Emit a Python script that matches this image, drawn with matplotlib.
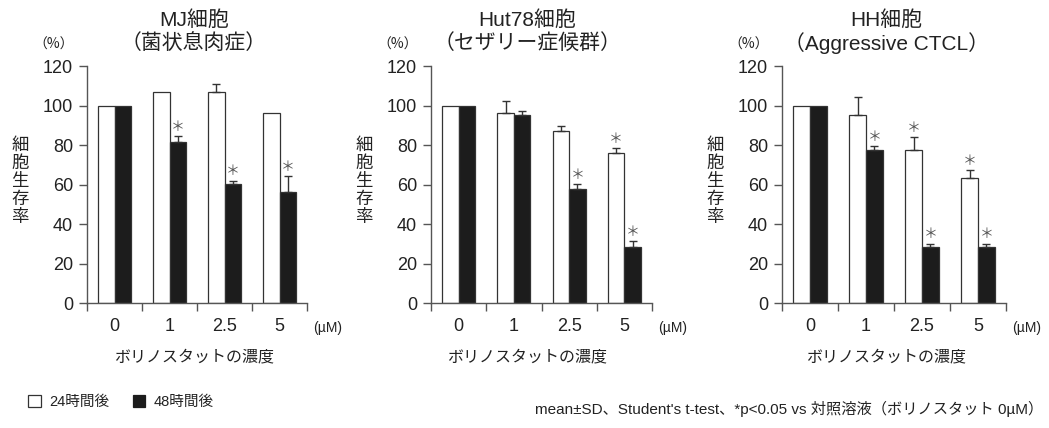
"""
Cell viability of CTCL cell lines after vorinostat treatment.

Three panels (MJ, Hut78, HH), paired bars for 24 h and 48 h,
upper SD whiskers and significance stars.
"""

import matplotlib
matplotlib.use("Agg")
import matplotlib.pyplot as plt
from matplotlib.patches import Patch

plt.rcParams["font.family"] = ["Liberation Sans", "Noto Sans CJK JP", "DejaVu Sans"]

# ------------------------------------------------------------------ #
#  Data
# ------------------------------------------------------------------ #

doses = ["0", "1", "2.5", "5"]

titles = [
    ("MJ細胞", "（菌状息肉症）"),
    ("Hut78細胞", "（セザリー症候群）"),
    ("HH細胞", "（Aggressive CTCL）"),
]

mj_24h = [100, 107, 107, 96.3]
mj_24h_sd = [0, 0, 3.8, 0]
mj_48h = [100, 81.5, 60.3, 56.4]
mj_48h_sd = [0, 3.0, 1.7, 8.0]
mj_24h_sig = [False, False, False, False]
mj_48h_sig = [False, True, True, True]

hut_24h = [100, 96.3, 87.2, 75.9]
hut_24h_sd = [0, 6.1, 2.5, 2.5]
hut_48h = [100, 95.0, 57.8, 28.2]
hut_48h_sd = [0, 2.0, 2.5, 3.4]
hut_24h_sig = [False, False, False, True]
hut_48h_sig = [False, False, True, True]

hh_24h = [100, 95.0, 77.4, 63.4]
hh_24h_sd = [0, 9.4, 6.6, 3.7]
hh_48h = [100, 77.4, 28.4, 28.4]
hh_48h_sd = [0, 2.2, 1.7, 1.7]
hh_24h_sig = [False, False, True, True]
hh_48h_sig = [False, True, True, True]

panels = [
    (mj_24h, mj_24h_sd, mj_24h_sig, mj_48h, mj_48h_sd, mj_48h_sig),
    (hut_24h, hut_24h_sd, hut_24h_sig, hut_48h, hut_48h_sd, hut_48h_sig),
    (hh_24h, hh_24h_sd, hh_24h_sig, hh_48h, hh_48h_sd, hh_48h_sig),
]

# ------------------------------------------------------------------ #
#  Layout (pixels on a 1049 x 428 canvas)
# ------------------------------------------------------------------ #

W, H = 1049, 428
axes_px = [(87, 220), (431, 221), (782, 224)]   # (left, width)
title_x = [194, 527, 886]
AX_TOP, AX_BOTTOM = 66, 303

TEXT = "#222222"
SPINE = "#555555"
BLACK = "#1c1c1c"
STAR = "#555555"

BAR_W = 0.3


def fx(px):
    return px / W


def fy(py):
    return 1 - py / H


def _draw_bars(ax, vals, sd, sig, offset, face):
    xs = [i + offset for i in range(len(vals))]
    ax.bar(xs, vals, width=BAR_W, color=face, edgecolor="#333333",
           linewidth=0.9, zorder=2)
    for x, v, s, star in zip(xs, vals, sd, sig):
        if s > 0:
            ax.errorbar(x, v, yerr=[[0], [s]], fmt="none", ecolor="#333333",
                        elinewidth=1.0, capsize=3.0, capthick=1.0, zorder=3)
        if star:
            ax.annotate("＊", (x, v + s), xytext=(0, 1.5), textcoords="offset points",
                        ha="center", va="bottom", fontsize=10, color=STAR,
                        family=["Noto Sans CJK JP"])


fig = plt.figure(figsize=(W / 100, H / 100), dpi=100)

for k, (left, width) in enumerate(axes_px):
    ax = fig.add_axes([fx(left), fy(AX_BOTTOM), width / W, (AX_BOTTOM - AX_TOP) / H])
    v24, s24, g24, v48, s48, g48 = panels[k]
    _draw_bars(ax, v24, s24, g24, -BAR_W / 2, "white")
    _draw_bars(ax, v48, s48, g48, BAR_W / 2, BLACK)

    ax.set_xlim(-0.5, len(doses) - 0.5)
    ax.set_ylim(0, 120)
    ax.set_yticks(range(0, 121, 20))
    ax.set_xticks([i - 0.5 for i in range(len(doses) + 1)])
    ax.set_xticklabels([])
    ax.set_xticks(range(len(doses)), minor=True)
    ax.set_xticklabels(doses, minor=True)
    ax.tick_params(axis="x", which="minor", length=0, pad=11,
                   labelsize=13, labelcolor=TEXT)
    ax.tick_params(axis="x", which="major", length=6, width=1, color=SPINE)
    ax.tick_params(axis="y", length=6, width=1, color=SPINE, pad=4,
                   labelsize=13, labelcolor=TEXT)
    for side in ("top", "right"):
        ax.spines[side].set_visible(False)
    for side in ("left", "bottom"):
        ax.spines[side].set_color(SPINE)
        ax.spines[side].set_linewidth(1.0)

    # titles, units and axis labels
    line1, line2 = titles[k]
    fig.text(fx(title_x[k]), fy(20), line1, ha="center", va="center",
             fontsize=15, color=TEXT)
    fig.text(fx(title_x[k]), fy(43), line2, ha="center", va="center",
             fontsize=15, color=TEXT)
    fig.text(fx(left - 33), fy(45), "（%）", ha="center", va="center",
             fontsize=10, color=TEXT, family=["Noto Sans CJK JP"])
    fig.text(fx(left - 67), fy(181), "\n".join("細胞生存率"), ha="center",
             va="center", fontsize=12.5, color=TEXT, linespacing=1.0,
             family=["Noto Sans CJK JP"])
    fig.text(fx(left + width + 21), fy(328), "(µM)", ha="center", va="center",
             fontsize=10, color=TEXT)
    fig.text(fx(title_x[k]), fy(357), "ボリノスタットの濃度", ha="center",
             va="center", fontsize=11.5, color=TEXT, family=["Noto Sans CJK JP"])

# legend
handles = [
    Patch(facecolor="white", edgecolor="#333333", linewidth=0.9, label="24時間後"),
    Patch(facecolor=BLACK, edgecolor=BLACK, linewidth=0.9, label="48時間後"),
]
leg = fig.legend(handles=handles, loc="center left", bbox_to_anchor=(fx(15), fy(402)),
                 ncol=2, frameon=False, fontsize=10.5, handlelength=0.85,
                 handleheight=0.85, handletextpad=0.6, columnspacing=1.6)
for t in leg.get_texts():
    t.set_color(TEXT)

fig.text(fx(1043), fy(409),
         "mean±SD、Student's t-test、*p<0.05 vs 対照溶液（ボリノスタット 0µM）",
         ha="right", va="center", fontsize=11, color=TEXT)

fig.savefig("out.png", dpi=100)
